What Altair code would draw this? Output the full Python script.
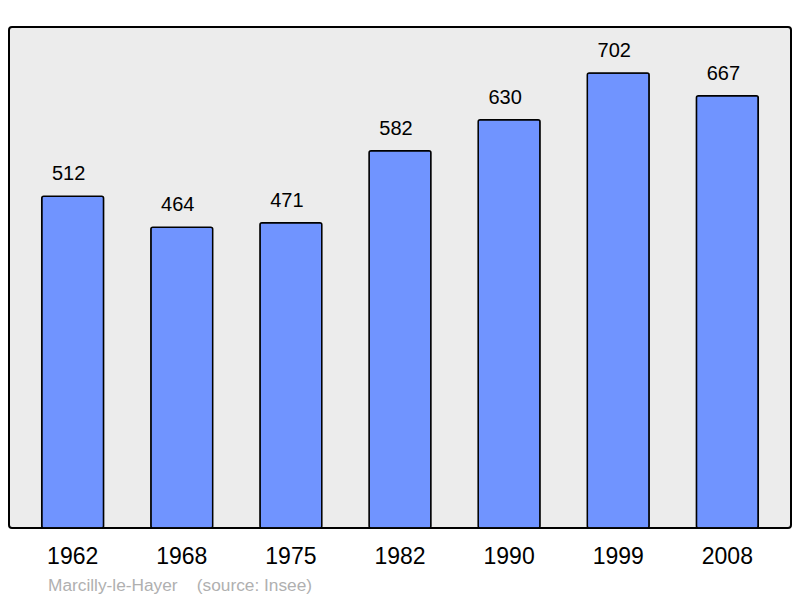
import altair as alt
import pandas as pd

years = ["1962", "1968", "1975", "1982", "1990", "1999", "2008"]
population = [512, 464, 471, 582, 630, 702, 667]

df = pd.DataFrame({"year": years, "pop": population})

x = alt.X("year:N", sort=years, title=None,
          scale=alt.Scale(paddingInner=0.433, paddingOuter=0.30),
          axis=alt.Axis(domain=False, ticks=False, labelAngle=0, labelFontSize=23,
                        labelFont="Liberation Sans", labelColor="#000000",
                        labelPadding=17))
y = alt.Y("pop:Q", title=None, scale=alt.Scale(domain=[0, 773], nice=False, zero=True),
          axis=None)

bars = alt.Chart(df).mark_bar(color="#7094ff", stroke="#000000", strokeWidth=1.5,
                              cornerRadius=2).encode(x=x, y=y)
labels = alt.Chart(df).mark_text(font="Liberation Sans", fontSize=20, color="#000000",
                                 baseline="middle", dy=-22, dx=-4).encode(
    x=alt.X("year:N", sort=years), y="pop:Q", text="pop:Q")

caption = "Marcilly-le-Hayer\u00a0\u00a0\u00a0\u00a0(source: Insee)"

chart = alt.layer(bars, labels).properties(
    width=782, height=501,
    autosize=alt.AutoSizeParams(type="none"),
    padding={"left": 1, "top": 19, "right": 1, "bottom": 70},
    title=alt.TitleParams(caption, orient="bottom",
                          anchor="start", font="Liberation Sans", fontSize=17.3,
                          fontWeight="normal", color="#b0b0b0", dx=39, offset=9),
).configure_view(fill="#ececec", stroke="#000000", strokeWidth=2, cornerRadius=3)

chart.save("out.html", embed_options={"renderer": "svg", "actions": False})
